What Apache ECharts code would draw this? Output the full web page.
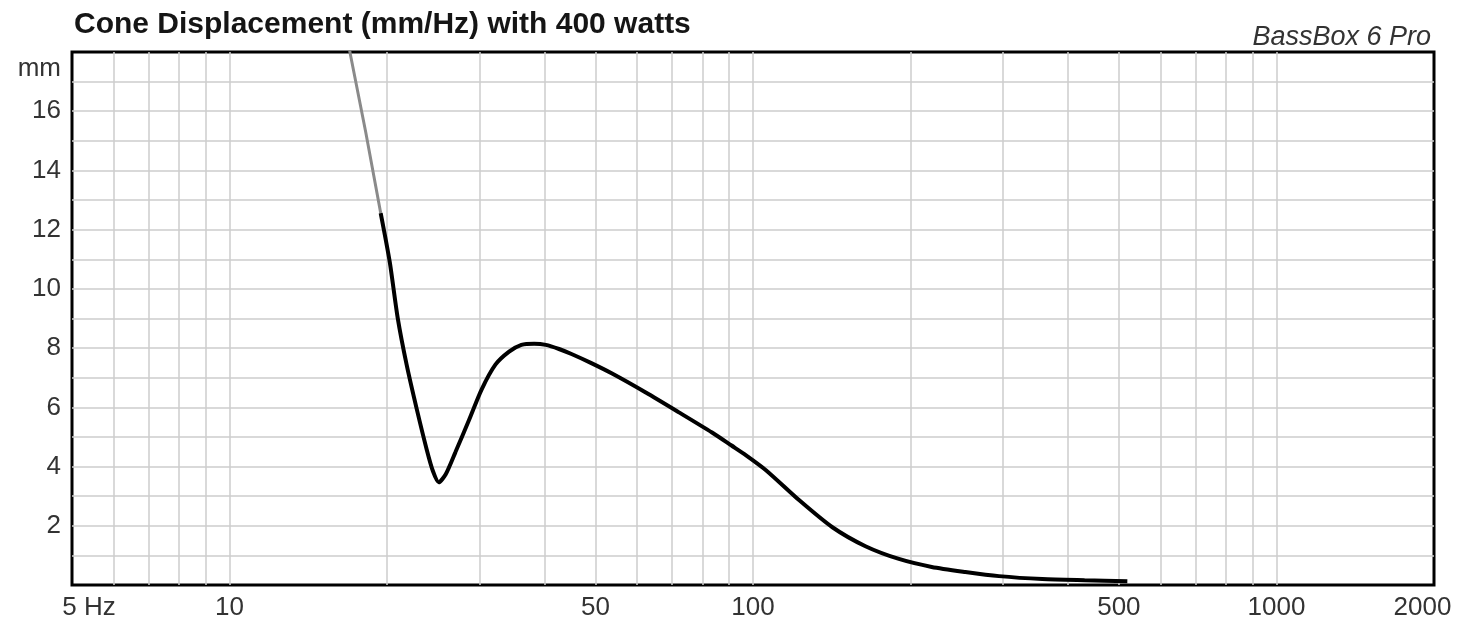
<!DOCTYPE html>
<html>
<head>
<meta charset="utf-8">
<script src="https://cdn.jsdelivr.net/npm/echarts@6/dist/echarts.min.js"></script>
<style>
html,body{margin:0;padding:0;background:#fff;}
#chart{width:1458px;height:621px;}
</style>
</head>
<body>
<div id="chart"></div>
<script>
// ---- data (frequency in Hz, displacement in mm) ----
const titleText = 'Cone Displacement (mm/Hz) with 400 watts';
const brandText = 'BassBox 6 Pro';
const xLabelValues = [5, 10, 50, 100, 500, 1000, 2000];
const xGridValues = [6, 7, 8, 9, 10, 20, 30, 40, 50, 60, 70, 80, 90, 100, 200, 300, 400, 500, 600, 700, 800, 900, 1000];
const yLabelValues = [2, 4, 6, 8, 10, 12, 14, 16, 18];
const yGridValues = [1, 2, 3, 4, 5, 6, 7, 8, 9, 10, 11, 12, 13, 14, 15, 16, 17];

const freqGray = [16.8, 17.0, 18.2, 19.44];
const dispGray = [18.5, 17.95, 15.3, 12.56];

const freqBlack = [19.44, 20.23, 20.95, 21.79, 22.79, 23.8, 24.47, 25.1, 25.88, 27.0, 28.7, 30.3, 32.2, 34.2, 36.1, 38.2, 40.2, 42.6, 45.0, 49.0, 53.8, 62.4, 72.2, 83.5, 91.0, 97.0, 106.0, 122.6, 141.8, 164.0, 190.0, 219.5, 254.5, 295, 357, 430, 519];
const dispBlack = [12.56, 10.91, 9.02, 7.44, 5.93, 4.58, 3.84, 3.47, 3.74, 4.48, 5.59, 6.6, 7.44, 7.88, 8.11, 8.15, 8.11, 7.97, 7.8, 7.5, 7.14, 6.5, 5.83, 5.15, 4.71, 4.38, 3.87, 2.86, 1.95, 1.31, 0.88, 0.61, 0.44, 0.3, 0.2, 0.16, 0.13];

const lg = Math.log10;
const toPairs = (fs, ds) => fs.map((f, i) => [lg(f), ds[i]]);

const chart = echarts.init(document.getElementById('chart'), null, {renderer: 'canvas'});
const labelFont = 'Liberation Sans';

chart.setOption({
  animation: false,
  backgroundColor: '#ffffff',
  title: [
    {
      text: titleText, left: 69, top: 5,
      textStyle: {fontFamily: labelFont, fontSize: 30, fontWeight: 'bold', color: '#151515'}
    },
    {
      text: brandText, right: 22, top: 19,
      textStyle: {fontFamily: labelFont, fontSize: 27, fontWeight: 'normal', fontStyle: 'italic', color: '#333333'}
    }
  ],
  grid: {
    left: 72, top: 52, right: 24, bottom: 35,
    show: true, borderColor: '#000', borderWidth: 3, backgroundColor: '#fff',
    containLabel: false
  },
  xAxis: {
    type: 'value',
    min: lg(5), max: lg(2000),
    axisLine: {show: false},
    axisTick: {show: false, customValues: xGridValues.map(lg)},
    splitLine: {show: true, lineStyle: {color: '#cdcdcd', width: 1.5}},
    axisLabel: {
      customValues: xLabelValues.map(lg),
      margin: 10,
      color: '#333',
      fontFamily: labelFont,
      fontSize: 26,
      formatter: function (v) {
        const f = Math.round(Math.pow(10, v));
        if (f === 5) return '{first|5 Hz}';
        if (f === 2000) return '{last|2000}';
        return String(f);
      },
      rich: {
        first: {fontFamily: labelFont, fontSize: 26, color: '#333', padding: [0, 0, 0, 34]},
        last: {fontFamily: labelFont, fontSize: 26, color: '#333', padding: [0, 23, 0, 0]}
      }
    }
  },
  yAxis: {
    type: 'value',
    min: 0, max: 18,
    axisLine: {show: false},
    axisTick: {show: false, customValues: yGridValues},
    splitLine: {show: true, lineStyle: {color: '#cdcdcd', width: 1.5}},
    axisLabel: {
      customValues: yLabelValues,
      margin: 11,
      color: '#333',
      fontFamily: labelFont,
      fontSize: 26,
      formatter: function (v) {
        if (v === 18) return '{mm|mm}';
        return String(v);
      },
      rich: {
        mm: {fontFamily: labelFont, fontSize: 26, color: '#333', padding: [34, 0, 0, 0]}
      }
    }
  },
  series: [
    {
      type: 'line', name: 'excursion (limit)',
      data: toPairs(freqGray, dispGray),
      showSymbol: false, symbol: 'none', clip: true,
      lineStyle: {color: '#8a8a8a', width: 3},
      z: 3
    },
    {
      type: 'line', name: 'excursion',
      data: toPairs(freqBlack, dispBlack),
      showSymbol: false, symbol: 'none', clip: true, smooth: 0.25,
      lineStyle: {color: '#000', width: 4},
      z: 4
    }
  ]
});
</script>
</body>
</html>
